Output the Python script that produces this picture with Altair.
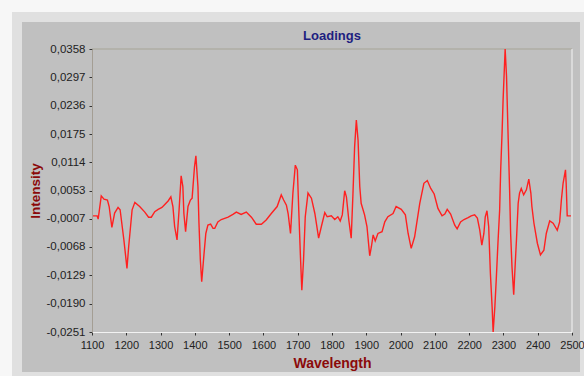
import altair as alt
import pandas as pd

wavelength = [
    1100, 1115, 1118, 1127, 1135, 1145, 1150, 1158, 1166, 1176, 1182, 1193, 1202, 1207, 1217, 1225,
    1239, 1254, 1265, 1273, 1283, 1293, 1304, 1322, 1330, 1336, 1341, 1348, 1354, 1360, 1365, 1368,
    1373, 1380, 1387, 1392, 1399, 1403, 1409, 1412, 1416, 1420, 1426, 1432, 1438, 1446, 1453, 1458,
    1467, 1477, 1497, 1511, 1521, 1535, 1550, 1565, 1579, 1594, 1608, 1623, 1640, 1652, 1659, 1667,
    1672, 1679, 1686, 1693, 1699, 1703, 1708, 1712, 1717, 1722, 1730, 1740, 1750, 1761, 1769, 1779,
    1786, 1798, 1808, 1817, 1824, 1830, 1837, 1842, 1849, 1856, 1861, 1866, 1871, 1876, 1881, 1885,
    1895, 1902, 1910, 1915, 1920, 1926, 1934, 1946, 1954, 1963, 1978, 1987, 2002, 2014, 2022, 2031,
    2041, 2056, 2068, 2078, 2088, 2098, 2109, 2121, 2129, 2136, 2146, 2158, 2165, 2175, 2185, 2197,
    2206, 2216, 2224, 2231, 2237, 2243, 2247, 2252, 2257, 2262, 2267, 2270, 2275, 2279, 2284, 2289,
    2292, 2296, 2299, 2305, 2309, 2314, 2318, 2321, 2325, 2330, 2333, 2338, 2343, 2347, 2352, 2359,
    2367, 2374, 2380, 2383, 2389, 2399, 2408, 2418, 2425, 2435, 2445, 2457, 2464, 2469, 2474, 2481,
    2483, 2486, 2497,
]
intensity = [
    -0.0001, -0.0001, -0.0008, 0.0042, 0.0035, 0.0033, 0.0019, -0.0026, 0.0005, 0.0017, 0.0012, -0.0053, -0.0114, -0.0067, 0.0012, 0.0028,
    0.0019, 0.0007, -0.0004, -0.0004, 0.0008, 0.0013, 0.0017, 0.0031, 0.0040, 0.0019, -0.0024, -0.0053, 0.0012, 0.0085, 0.0062, 0.0004,
    -0.0035, 0.0019, 0.0033, 0.0037, 0.0105, 0.0128, 0.0062, -0.0017, -0.0096, -0.0143, -0.0089, -0.0039, -0.0021, -0.0019, -0.0028, -0.0028,
    -0.0014, -0.0009, -0.0004, 0.0002, 0.0007, 0.0002, 0.0007, -0.0004, -0.0019, -0.0019, -0.0010, 0.0004, 0.0019, 0.0044, 0.0033, 0.0022,
    0.0004, -0.0039, 0.0048, 0.0108, 0.0098, 0.0012, -0.0089, -0.0161, -0.0096, -0.0003, 0.0048, 0.0037, 0.0004, -0.0049, -0.0024, 0.0006,
    -0.0003, -0.0001, -0.0009, -0.0003, -0.0012, 0.0001, 0.0053, 0.0040, -0.0010, -0.0049, 0.0044, 0.0148, 0.0205, 0.0162, 0.0062, 0.0026,
    0.0001, -0.0024, -0.0087, -0.0067, -0.0042, -0.0055, -0.0039, -0.0035, -0.0014, -0.0003, 0.0004, 0.0019, 0.0013, 0.0001, -0.0039, -0.0071,
    -0.0046, 0.0026, 0.0069, 0.0075, 0.0058, 0.0046, 0.0015, -0.0001, 0.0003, 0.0013, 0.0003, -0.0021, -0.0029, -0.0014, -0.0009, -0.0005,
    -0.0001, 0.0001, -0.0006, -0.0032, -0.0064, -0.0039, -0.0003, 0.0010, -0.0024, -0.0125, -0.0197, -0.0251, -0.0197, -0.0139, -0.0060, 0.0012,
    0.0098, 0.0177, 0.0248, 0.0358, 0.0300, 0.0162, 0.0055, -0.0039, -0.0111, -0.0171, -0.0125, -0.0053, 0.0026, 0.0048, 0.0058, 0.0044,
    0.0055, 0.0078, 0.0048, 0.0019, -0.0017, -0.0060, -0.0085, -0.0075, -0.0039, -0.0012, -0.0017, -0.0032, -0.0014, 0.0033, 0.0069, 0.0098,
    0.0069, -0.0001, -0.0001,
]

y_ticks = [-0.0251, -0.0190, -0.0129, -0.0068, -0.0007, 0.0053, 0.0114, 0.0175, 0.0236, 0.0297, 0.0358]
x_ticks = [1100, 1200, 1300, 1400, 1500, 1600, 1700, 1800, 1900, 2000, 2100, 2200, 2300, 2400, 2500]
chart_title = "Loadings"

df = pd.DataFrame({"Wavelength": wavelength, "Intensity": intensity})
one = pd.DataFrame({"a": [0]})

W, H = 480, 283

shadow = alt.Chart(one).mark_rect(color="#e0e0e0").encode(
    x=alt.value(-80), x2=alt.value(492), y=alt.value(-37), y2=alt.value(327)
)
panel = alt.Chart(one).mark_rect(color="#c0c0c0").encode(
    x=alt.value(-70), x2=alt.value(488), y=alt.value(-27), y2=alt.value(323)
)
top_border = alt.Chart(one).mark_rule(color="#a6a496", strokeWidth=1).encode(
    x=alt.value(0), x2=alt.value(W), y=alt.value(0)
)
right_border = alt.Chart(one).mark_rule(color="#f4f4f4", strokeWidth=1).encode(
    x=alt.value(W), y=alt.value(0), y2=alt.value(H)
)
title_text = alt.Chart(one).mark_text(
    text=chart_title, font="Liberation Sans", fontSize=13, fontWeight="bold",
    color="#1e1e80", align="center", baseline="middle",
).encode(x=alt.value(W / 2), y=alt.value(-13))

line = alt.Chart(df).mark_line(color="#ff2020", strokeWidth=1.4).encode(
    x=alt.X(
        "Wavelength:Q",
        scale=alt.Scale(domain=[1100, 2500], nice=False, zero=False),
        axis=alt.Axis(
            values=x_ticks, format="d", grid=False, zindex=1,
            labelOverlap=False, labelFlush=False,
            domainColor="#f2f2f2", tickColor="#333333", tickSize=3,
            labelFont="Liberation Sans", labelFontSize=11, labelColor="#222222", labelPadding=4,
            title="Wavelength", titleFont="Liberation Sans", titleFontSize=14, titleFontWeight="bold",
            titleColor="#8b0a0a", titleY=31, titleBaseline="middle",
        ),
    ),
    y=alt.Y(
        "Intensity:Q",
        scale=alt.Scale(domain=[-0.0251, 0.0358], nice=False, zero=False),
        axis=alt.Axis(
            values=y_ticks, grid=False, zindex=1,
            labelOverlap=False, labelFlush=False,
            labelExpr="replace(replace(format(datum.value, '.4f'), '.', ','), '\u2212', '-')",
            domainColor="#a49e94", tickColor="#333333", tickSize=3,
            labelFont="Liberation Sans", labelFontSize=11.5, labelColor="#222222", labelPadding=4,
            title="Intensity", titleFont="Liberation Sans", titleFontSize=13.5, titleFontWeight="bold",
            titleColor="#8b0a0a", titleX=-57, titleBaseline="middle",
        ),
    ),
)

chart = alt.layer(shadow, panel, top_border, right_border, title_text, line).properties(
    width=W, height=H,
    background="#f7f7f7",
    padding={"left": 92, "top": 49, "right": 12, "bottom": 44},
    autosize=alt.AutoSizeParams(type="none"),
).configure_view(stroke=None)

chart.save("out.html", embed_options={"renderer": "svg", "actions": False})
